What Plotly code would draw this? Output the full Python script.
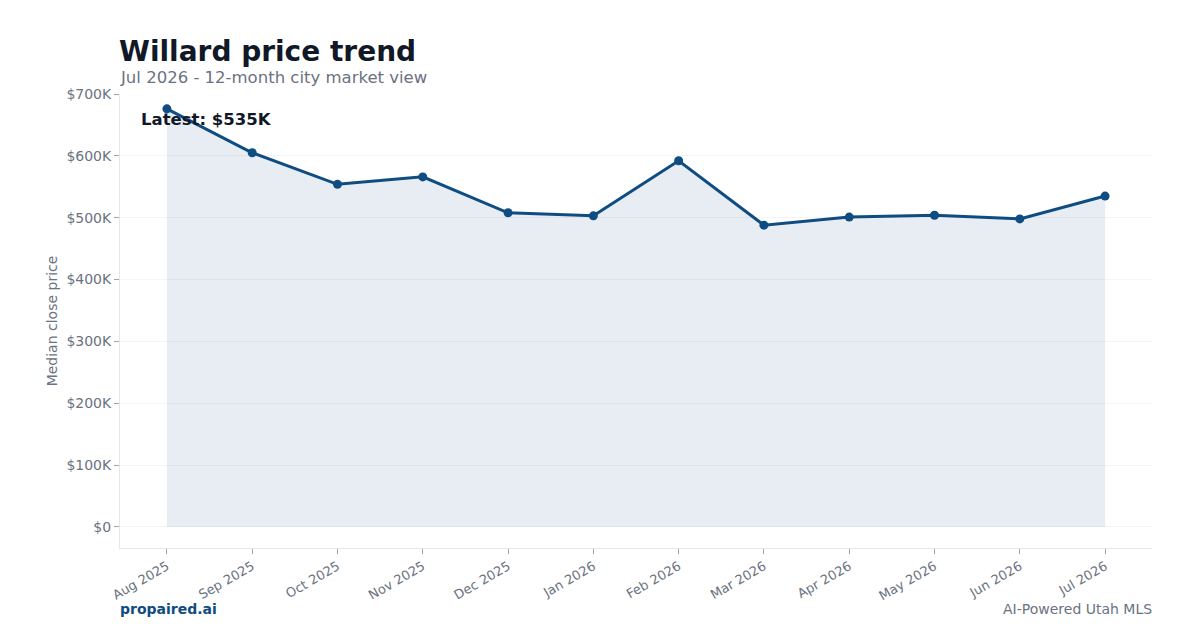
import plotly.graph_objects as go

months = ["Aug 2025", "Sep 2025", "Oct 2025", "Nov 2025", "Dec 2025", "Jan 2026",
          "Feb 2026", "Mar 2026", "Apr 2026", "May 2026", "Jun 2026", "Jul 2026"]
prices = [676000, 605000, 554000, 566000, 508000, 503000,
          592000, 488000, 501000, 504000, 498000, 535000]
tick_vals = [0, 100000, 200000, 300000, 400000, 500000, 600000, 700000]
tick_text = ["$0", "$100K", "$200K", "$300K", "$400K", "$500K", "$600K", "$700K"]

line_color = "#0f4c81"
font_family = "DejaVu Sans, sans-serif"

fig = go.Figure()
fig.add_trace(go.Scatter(
    x=months, y=prices, mode="lines+markers",
    line=dict(color=line_color, width=3),
    marker=dict(size=9, color=line_color),
    fill="tozeroy", fillcolor="rgba(15,76,129,0.10)",
    hoverinfo="skip", showlegend=False,
))

fig.update_layout(
    width=1200, height=630,
    margin=dict(l=120, r=48, t=94, b=82),
    paper_bgcolor="white", plot_bgcolor="white",
    font=dict(family=font_family, color="#6b7280", size=13),
    xaxis=dict(
        type="category", range=[-0.55, 11.55],
        tickangle=-30, showgrid=False,
        showline=True, linecolor="#e5e7eb", linewidth=1,
        ticks="outside", ticklen=5, tickcolor="#9ca3af",
        tickfont=dict(size=13, color="#6b7280"),
    ),
    yaxis=dict(
        range=[-34000, 700000],
        tickvals=tick_vals, ticktext=tick_text,
        showgrid=True, gridcolor="#f3f4f6", gridwidth=1,
        showline=True, linecolor="#e5e7eb", linewidth=1,
        ticks="outside", ticklen=5, tickcolor="#9ca3af",
        tickfont=dict(size=14, color="#6b7280"),
        zeroline=False,
        title=dict(text="Median close price", font=dict(size=14, color="#6b7280"), standoff=5),
    ),
    annotations=[
        dict(text="<b>Willard price trend</b>", xref="paper", yref="paper",
             x=0, y=1 + (94 - 52) / 454, xanchor="left", yanchor="middle",
             showarrow=False, xshift=-3,
             font=dict(size=28, color="#111827", family=font_family)),
        dict(text="Jul 2026 - 12-month city market view", xref="paper", yref="paper",
             x=0, y=1 + (94 - 77) / 454, xanchor="left", yanchor="middle",
             showarrow=False, xshift=-2,
             font=dict(size=16.5, color="#6b7280", family=font_family)),
        dict(text="<b>Latest: $535K</b>", x=0.02, y=0.97, xref="paper", yref="paper",
             xanchor="left", yanchor="top", showarrow=False, xshift=-2,
             font=dict(size=16.5, color="#111827", family=font_family)),
        dict(text="<b>propaired.ai</b>", x=0, y=-0.135, xref="paper", yref="paper",
             xanchor="left", yanchor="middle", showarrow=False, xshift=-2,
             font=dict(size=14, color=line_color, family=font_family)),
        dict(text="AI-Powered Utah MLS", x=1, y=-0.135, xref="paper", yref="paper",
             xanchor="right", yanchor="middle", showarrow=False, xshift=2,
             font=dict(size=14, color="#6b7280", family=font_family)),
    ],
)

fig.write_html("out.html")
